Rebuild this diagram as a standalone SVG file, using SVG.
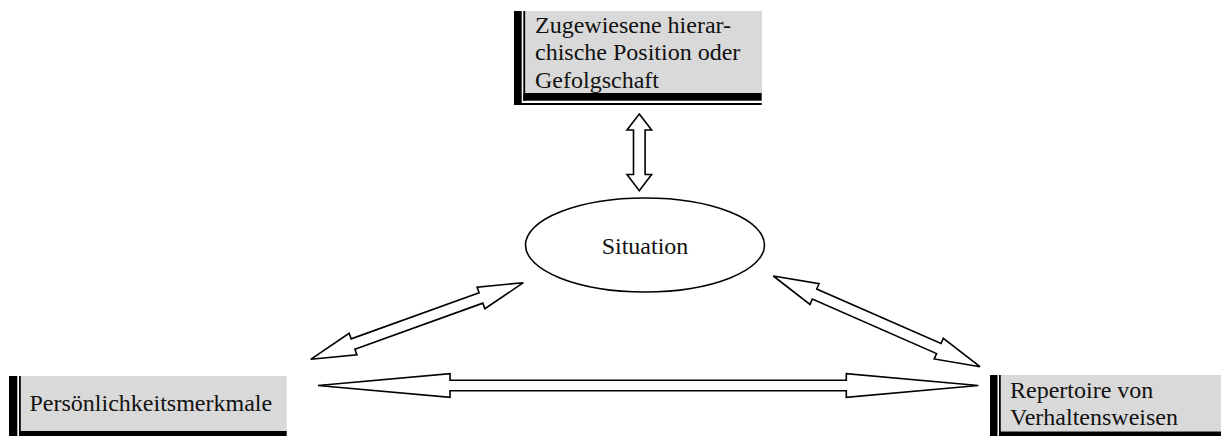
<svg xmlns="http://www.w3.org/2000/svg" width="1221" height="436" viewBox="0 0 1221 436">
  <style>
    .fill { fill: #d9d9d9; }
    .bar { fill: #000; }
    .label { font-family: "Liberation Serif", "Times New Roman", serif; font-size: 24px; fill: #111; }
    .arrow { fill: #fff; stroke: #000; stroke-width: 1.6; stroke-linejoin: miter; }
    .oval { fill: #fff; stroke: #000; stroke-width: 1.6; }
  </style>
  <rect width="1221" height="436" fill="#fff"/>

  <!-- Top box: grey fill with thick/thin double border on left and bottom -->
  <g id="position">
    <rect class="fill" x="526" y="11" width="236" height="82"/>
    <rect class="bar" x="514" y="11" width="7.7" height="94"/>
    <rect class="bar" x="523.3" y="11" width="2" height="90"/>
    <rect class="bar" x="523.3" y="93" width="238.4" height="7.7"/>
    <rect class="bar" x="514" y="103" width="247.7" height="2"/>
    <text class="label" x="535" y="32.5">Zugewiesene hierar-</text>
    <text class="label" x="535" y="60">chische Position oder</text>
    <text class="label" x="535" y="87.5">Gefolgschaft</text>
  </g>

  <!-- Centre ellipse -->
  <g id="situation">
    <ellipse class="oval" cx="645" cy="245" rx="119.5" ry="47"/>
    <text class="label" x="645" y="254" text-anchor="middle">Situation</text>
  </g>

  <!-- Bottom left box -->
  <g id="persoenlichkeit">
    <rect class="fill" x="21" y="376" width="265.7" height="55"/>
    <rect class="bar" x="9" y="376" width="8.3" height="60"/>
    <rect class="bar" x="19" y="376" width="1.8" height="60"/>
    <rect class="bar" x="19" y="431" width="267.7" height="5"/>
    <text class="label" x="29.5" y="411">Persönlichkeitsmerkmale</text>
  </g>

  <!-- Bottom right box -->
  <g id="repertoire">
    <rect class="fill" x="1001" y="375" width="220" height="56.5"/>
    <rect class="bar" x="990" y="375" width="7.5" height="61"/>
    <rect class="bar" x="999" y="375" width="1.8" height="61"/>
    <rect class="bar" x="999" y="431.5" width="222" height="4.5"/>
    <text class="label" x="1010" y="398">Repertoire von</text>
    <text class="label" x="1010" y="425">Verhaltensweisen</text>
  </g>

  <!-- Hollow double-headed block arrows -->
  <g id="connectors">
    <polygon class="arrow" points="639.3,114 651.6,130 645.1,130 645.1,174.5 651.6,174.5 639.3,190.7 627,174.5 633.5,174.5 633.5,130 627,130"/>
    <polygon class="arrow" transform="translate(310.7 359.3) rotate(-19.81)" points="0,0 45,-11.5 45,-5.5 181,-5.5 181,-11.5 226,0 181,11.5 181,5.5 45,5.5 45,11.5"/>
    <polygon class="arrow" transform="translate(773.3 276) rotate(23.69)" points="0,0 45,-11.3 45,-5.5 180.7,-5.5 180.7,-11.3 225.7,0 180.7,11.3 180.7,5.5 45,5.5 45,11.3"/>
    <polygon class="arrow" points="318,385.5 450,373.7 450,380.2 846.3,380.2 846.3,373.7 978.3,385.5 846.3,397.3 846.3,390.8 450,390.8 450,397.3"/>
  </g>
</svg>
